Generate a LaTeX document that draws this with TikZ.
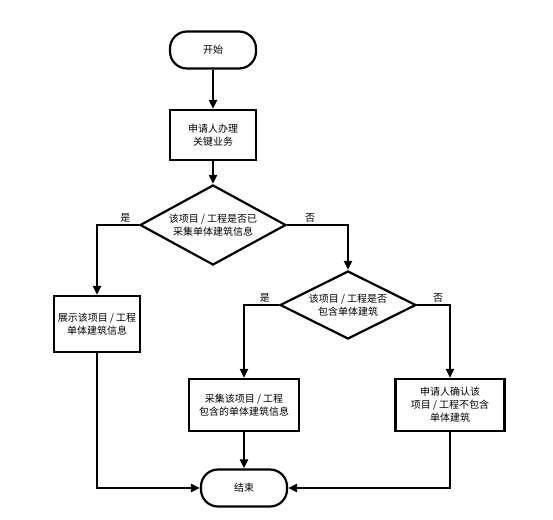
\documentclass[tikz,border=0pt]{standalone}
\usepackage{fontspec}
\newfontfamily\cjk{Noto Sans CJK SC}
\usetikzlibrary{arrows.meta,shapes.geometric}

\tikzset{
    flow/.style={line width=2.2pt, -{Triangle[length=9pt,width=8pt]}},
    term/.style={draw, line width=2.2pt, rounded corners=17pt, minimum width=86pt, minimum height=37pt, font=\cjk\fontsize{10}{13}\selectfont},
    proc/.style={draw, line width=2.2pt, align=center, minimum height=52pt, font=\cjk\fontsize{10}{13}\selectfont},
    decide/.style={draw, diamond, line width=2.2pt, align=center, inner sep=0pt, font=\cjk\fontsize{10}{13}\selectfont},
    yesno/.style={font=\cjk\fontsize{10}{12}\selectfont, inner sep=2pt}
}

\begin{document}
\begin{tikzpicture}[x=1pt, y=-1pt]
    \useasboundingbox (0,0) rectangle (553,519);
    % Start and first step
    \node[term] (start) at (213,50) {开始};
    \node[proc, minimum width=86pt, minimum height=50pt] (apply) at (213,135) {申请人办理\\关键业务};
    % First decision
    \node[decide, aspect=1.8, minimum width=146pt, minimum height=80pt] (check) at (213,225) {该项目 / 工程是否已\\采集单体建筑信息};
    \node[proc, minimum width=86pt, minimum height=56pt] (show) at (97,324) {展示该项目 / 工程\\单体建筑信息};
    % Second decision
    \node[decide, aspect=2, minimum width=136pt, minimum height=68pt] (contain) at (348,305) {该项目 / 工程是否\\包含单体建筑};
    \node[proc, minimum width=110pt] (collect) at (244,405) {采集该项目 / 工程\\包含的单体建筑信息};
    \node[proc, minimum width=109pt] (confirm) at (450,405) {申请人确认该\\项目 / 工程不包含\\单体建筑};
    % End
    \node[term] (finish) at (244,488) {结束};
    % Connectors
    \draw[flow] (start) -- (apply);
    \draw[flow] (apply) -- (check);
    \draw[flow] (check.west) -| node[yesno, above, pos=0.16] (yes1) {是} (show.north);
    \draw[flow] (check.east) -| node[yesno, above, pos=0.19] (no1) {否} (contain.north);
    \draw[flow] (contain.west) -| node[yesno, above, pos=0.2] (yes2) {是} (collect.north);
    \draw[flow] (contain.east) -| node[yesno, above, pos=0.32] (no2) {否} (confirm.north);
    \draw[flow] (show.south) |- (finish.west);
    \draw[flow] (collect) -- (finish);
    \draw[flow] (confirm.south) |- (finish.east);
\end{tikzpicture}
\end{document}
